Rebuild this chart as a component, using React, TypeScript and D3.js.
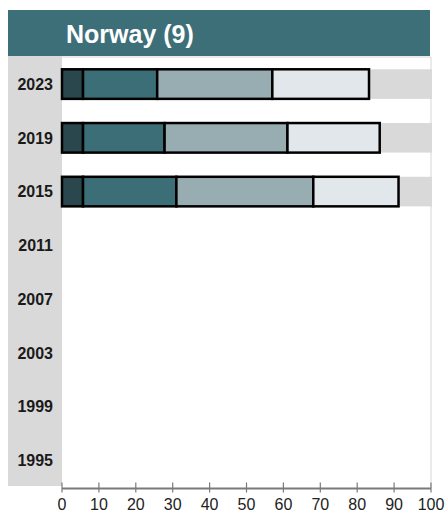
import { useEffect, useRef } from 'react';
import * as d3 from 'd3';

const years = ['2023', '2019', '2015', '2011', '2007', '2003', '1999', '1995'];
const dataYears = ['2023', '2019', '2015'];
const seg1 = [5.7, 5.7, 5.7];
const seg2 = [20.1, 22.1, 25.3];
const seg3 = [31.2, 33.3, 37.1];
const seg4 = [26.2, 25.0, 23.1];
const xTicks = [0, 10, 20, 30, 40, 50, 60, 70, 80, 90, 100];
const segColors = ['#29474d', '#3c6e78', '#98adb2', '#e1e7ea'];

const W = 445;
const H = 517;
const FONT = 'Liberation Sans, Arial, sans-serif';

const App = () => {
  const svgRef = useRef<SVGSVGElement>(null);

  useEffect(() => {
    const svg = d3.select(svgRef.current);
    svg.selectAll('*').remove();

    const plot = { left: 62, right: 431, top: 56, bottom: 486 };
    const x = d3.scaleLinear().domain([0, 100]).range([plot.left, plot.right]);
    const y = d3.scaleBand<string>().domain(years).range([plot.top + 1.2, plot.bottom + 1.2]).paddingInner(0.45).paddingOuter(0.225);
    const rowBand = d3.scaleBand<string>().domain(years).range([plot.top, plot.bottom]);

    // title
    svg.append('rect').attr('x', 8).attr('y', 10).attr('width', 422).attr('height', 46).attr('fill', '#3d6f79');
    svg.append('text').attr('x', 66).attr('y', 42.5).attr('fill', '#fff')
      .attr('font-family', FONT).attr('font-weight', 'bold').attr('font-size', 25)
      .text('Norway (9)');

    // left label column
    svg.append('rect').attr('x', 8).attr('y', plot.top).attr('width', plot.left - 8).attr('height', plot.bottom - plot.top).attr('fill', '#d9d9d9');

    // plot frame
    svg.append('path')
      .attr('d', `M${plot.left},${plot.top + 1}H${plot.right}V${plot.bottom + 2}`)
      .attr('fill', 'none').attr('stroke', '#d6d6d6').attr('stroke-width', 1);

    // year labels
    svg.append('g').selectAll('text').data(years).join('text')
      .attr('x', 53).attr('y', (d) => (rowBand(d) as number) + rowBand.bandwidth() / 2 + 7)
      .attr('text-anchor', 'end').attr('font-family', FONT)
      .attr('font-weight', 'bold').attr('font-size', 16).attr('fill', '#1a1a1a')
      .text((d) => d);

    // background bands for years with data
    svg.append('g').selectAll('rect').data(dataYears).join('rect')
      .attr('x', x(0)).attr('y', (d) => y(d) as number)
      .attr('width', x(100) - x(0) + 1).attr('height', y.bandwidth()).attr('fill', '#d9d9d9');

    // stacked bars
    const stacked = dataYears.map((yr, i) => {
      const vals = [seg1[i], seg2[i], seg3[i], seg4[i]];
      let acc = 0;
      return vals.map((v, k) => {
        const s = { year: yr, k, x0: acc, x1: acc + v };
        acc += v;
        return s;
      });
    }).flat();

    svg.append('g').selectAll('rect').data(stacked).join('rect')
      .attr('x', (d) => x(d.x0)).attr('y', (d) => y(d.year) as number)
      .attr('width', (d) => x(d.x1) - x(d.x0)).attr('height', y.bandwidth())
      .attr('fill', (d) => segColors[d.k]).attr('stroke', '#000').attr('stroke-width', 2.5);

    // x axis
    const ax = svg.append('g').attr('transform', `translate(0,${plot.bottom + 2.5})`);
    ax.append('line').attr('x1', x(0)).attr('x2', x(100)).attr('stroke', '#7a7a7a').attr('stroke-width', 2);
    ax.selectAll('line.tick').data(xTicks).join('line').attr('class', 'tick')
      .attr('x1', (d) => x(d)).attr('x2', (d) => x(d)).attr('y1', -6).attr('y2', 4)
      .attr('stroke', '#7a7a7a').attr('stroke-width', 1.2);
    ax.selectAll('text').data(xTicks).join('text')
      .attr('x', (d) => x(d)).attr('y', 21.5).attr('text-anchor', 'middle')
      .attr('font-family', FONT).attr('font-size', 16).attr('fill', '#222')
      .text((d) => d);
  }, []);

  return (
    <svg ref={svgRef} width={W} height={H} style={{ position: 'absolute', left: 0, top: 0 }} />
  );
};

export default App;
